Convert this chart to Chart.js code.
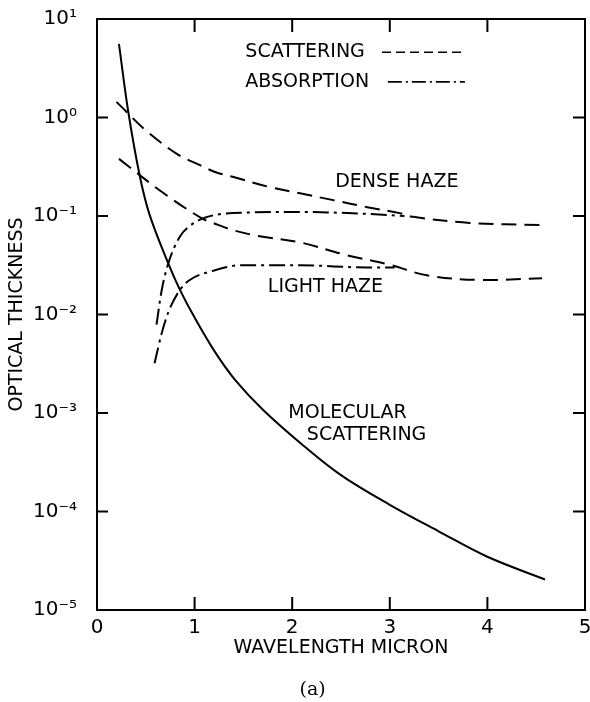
<!DOCTYPE html>
<html>
<head>
<meta charset="utf-8">
<title>Optical thickness vs wavelength</title>
<script src="https://cdn.jsdelivr.net/npm/chart.js@4.4.1/dist/chart.umd.min.js"></script>
<style>
  html, body { margin: 0; padding: 0; background: #fff; }
</style>
</head>
<body>
<canvas id="chart" width="590" height="702"></canvas>
<script>
// axis ticks
const xTicks = [0, 1, 2, 3, 4, 5];
const yTicks = [1e-5, 1e-4, 1e-3, 1e-2, 1e-1, 1e0, 1e1];
const yTickLabels = ["10⁻⁵", "10⁻⁴", "10⁻³", "10⁻²", "10⁻¹", "10⁰", "10¹"];

// molecular scattering (solid)
const molX = [0.225, 0.32, 0.44, 0.54, 0.73, 0.85, 1.0, 1.2, 1.41, 1.7, 2.08, 2.5, 3.0, 3.5, 4.0, 4.59];
const molY = [5.6, 1.15, 0.25, 0.102, 0.033, 0.0178, 0.0093, 0.0043, 0.0022, 0.00108, 0.0005, 0.000234, 0.000117, 0.000063, 0.0000347, 0.0000204];

// dense haze scattering (dashed)
const denseScatX = [0.2, 0.5, 0.83, 1.05, 1.21, 1.39, 1.74, 2.08, 2.42, 2.77, 3.1, 3.24, 3.82, 4.54];
const denseScatY = [1.44, 0.74, 0.42, 0.33, 0.28, 0.25, 0.20, 0.17, 0.145, 0.123, 0.107, 0.098, 0.085, 0.081];

// light haze scattering (dashed)
const lightScatX = [0.225, 0.67, 1.07, 1.19, 1.39, 1.64, 2.08, 2.56, 3.0, 3.38, 3.92, 4.56];
const lightScatY = [0.38, 0.174, 0.095, 0.085, 0.072, 0.063, 0.054, 0.040, 0.032, 0.025, 0.0224, 0.0234];

// dense haze absorption (dash-dot)
const denseAbsX = [0.61, 0.66, 0.73, 0.85, 0.95, 1.09, 1.39, 2.08, 2.77, 3.15];
const denseAbsY = [0.0079, 0.017, 0.033, 0.062, 0.079, 0.095, 0.107, 0.11, 0.105, 0.10];

// light haze absorption (dash-dot)
const lightAbsX = [0.59, 0.66, 0.73, 0.85, 0.95, 1.2, 1.47, 2.08, 2.77, 3.05];
const lightAbsY = [0.0032, 0.0063, 0.0105, 0.0178, 0.0224, 0.028, 0.0316, 0.0316, 0.030, 0.030];

// text written inside the plot (data coordinates)
const notes = [
    { text: "SCATTERING", x: 1.52, y: 4.6 },
    { text: "ABSORPTION", x: 1.52, y: 2.3 },
    { text: "DENSE HAZE", x: 2.44, y: 0.22 },
    { text: "LIGHT HAZE", x: 1.75, y: 0.019 },
    { text: "MOLECULAR", x: 1.96, y: 0.001 },
    { text: "SCATTERING", x: 2.15, y: 0.0006 }
];
const DASH = [15, 8];
const DASHDOT = [16, 5, 3, 5];
const FONT = "DejaVu Sans";

function pts(xs, ys) {
    return xs.map((x, i) => ({ x, y: ys[i] }));
}

function line(data, dash, smooth) {
    return {
        data,
        borderColor: "#000",
        borderWidth: 2,
        borderDash: dash,
        pointRadius: 0,
        fill: false,
        tension: smooth ? 0.35 : 0,
        cubicInterpolationMode: smooth ? "default" : "monotone"
    };
}

// frame, inward ticks, labels and the small legend
const decorPlugin = {
    id: "decor",
    afterDraw(chart) {
        const { ctx, chartArea: a, scales: { x, y } } = chart;
        ctx.save();
        ctx.strokeStyle = "#000";
        ctx.lineWidth = 2;
        ctx.setLineDash([]);
        ctx.strokeRect(a.left, a.top, a.right - a.left, a.bottom - a.top);

        ctx.beginPath();
        xTicks.slice(1, -1).forEach(v => {
            const px = x.getPixelForValue(v);
            ctx.moveTo(px, a.bottom); ctx.lineTo(px, a.bottom - 13);
            ctx.moveTo(px, a.top); ctx.lineTo(px, a.top + 13);
        });
        yTicks.slice(1, -1).forEach(v => {
            const py = y.getPixelForValue(v);
            ctx.moveTo(a.left, py); ctx.lineTo(a.left + 11, py);
            ctx.moveTo(a.right, py); ctx.lineTo(a.right - 12, py);
        });
        ctx.stroke();

        ctx.fillStyle = "#000";
        ctx.font = "19px '" + FONT + "'";
        ctx.textBaseline = "middle";
        ctx.textAlign = "left";
        notes.forEach(n => ctx.fillText(n.text, x.getPixelForValue(n.x), y.getPixelForValue(n.y)));

        // legend samples
        ctx.lineWidth = 1.6;
        ctx.setLineDash([9, 5]);
        ctx.beginPath();
        ctx.moveTo(x.getPixelForValue(2.92), y.getPixelForValue(4.6));
        ctx.lineTo(x.getPixelForValue(3.74), y.getPixelForValue(4.6));
        ctx.stroke();
        ctx.setLineDash([14, 4, 2, 4]);
        ctx.beginPath();
        ctx.moveTo(x.getPixelForValue(2.98), y.getPixelForValue(2.3));
        ctx.lineTo(x.getPixelForValue(3.77), y.getPixelForValue(2.3));
        ctx.stroke();

        // caption
        ctx.font = "19px 'DejaVu Serif'";
        ctx.textAlign = "center";
        ctx.fillText("(a)", x.getPixelForValue(2.21), a.bottom + 80);
        ctx.restore();
    }
};

new Chart(document.getElementById("chart"), {
    type: "line",
    data: {
        datasets: [
            line(pts(molX, molY), [], true),
            line(pts(denseScatX, denseScatY), DASH, true),
            line(pts(lightScatX, lightScatY), DASH, true),
            line(pts(denseAbsX, denseAbsY), DASHDOT, false),
            line(pts(lightAbsX, lightAbsY), DASHDOT, false)
        ]
    },
    options: {
        responsive: false,
        animation: false,
        devicePixelRatio: 1,
        layout: { padding: { left: 0, right: 5, top: 19, bottom: 43 } },
        plugins: { legend: { display: false }, tooltip: { enabled: false } },
        scales: {
            x: {
                type: "linear",
                min: 0,
                max: 5,
                afterBuildTicks: s => { s.ticks = xTicks.map(v => ({ value: v })); },
                afterFit: s => { s.height = 49; s.paddingLeft = 0; s.paddingRight = 0; },
                grid: { display: false, drawTicks: false },
                border: { display: false },
                ticks: { color: "#000", padding: 6, maxRotation: 0, font: { family: FONT, size: 20 } },
                title: {
                    display: true,
                    text: "WAVELENGTH MICRON",
                    color: "#000",
                    padding: 0,
                    font: { family: FONT, size: 19 }
                }
            },
            y: {
                type: "logarithmic",
                min: 1e-5,
                max: 10,
                afterBuildTicks: s => { s.ticks = yTicks.map(v => ({ value: v })); },
                afterFit: s => { s.width = 97; s.paddingTop = 0; s.paddingBottom = 0; },
                grid: { display: false, drawTicks: false },
                border: { display: false },
                ticks: {
                    color: "#000",
                    padding: 20,
                    font: { family: FONT, size: 20 },
                    callback: (v, i) => yTickLabels[i]
                },
                title: {
                    display: true,
                    text: "OPTICAL THICKNESS",
                    color: "#000",
                    padding: { top: 6, bottom: 0 },
                    font: { family: FONT, size: 19 }
                }
            }
        }
    },
    plugins: [decorPlugin]
});
</script>
</body>
</html>
